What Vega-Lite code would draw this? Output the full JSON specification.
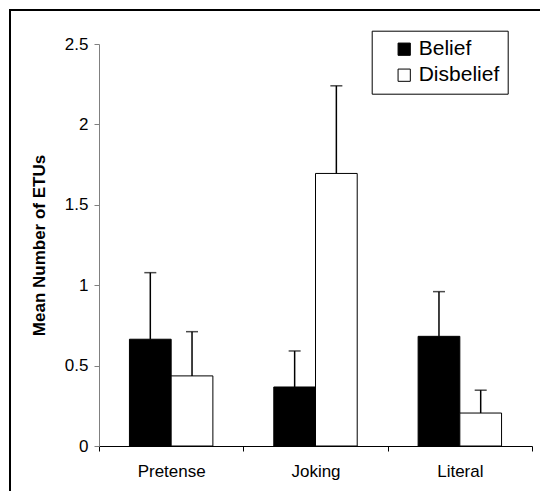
{
  "$schema": "https://vega.github.io/schema/vega-lite/v6.json",
  "width": 534,
  "height": 485,
  "autosize": {"type": "none"},
  "padding": {"left": 10, "top": 10, "right": -4, "bottom": -4},
  "background": "white",
  "config": {
    "font": "Liberation Sans",
    "view": {"stroke": "black", "strokeWidth": 2},
    "axis": {"grid": false, "labelFont": "Liberation Sans", "titleFont": "Liberation Sans", "labelColor": "black", "titleColor": "black"}
  },
  "data": {
    "values": [
      {"condition": "Pretense", "group": "Belief", "mean": 0.664, "upper": 1.078},
      {"condition": "Pretense", "group": "Disbelief", "mean": 0.436, "upper": 0.711},
      {"condition": "Joking", "group": "Belief", "mean": 0.367, "upper": 0.591},
      {"condition": "Joking", "group": "Disbelief", "mean": 1.695, "upper": 2.24},
      {"condition": "Literal", "group": "Belief", "mean": 0.682, "upper": 0.96},
      {"condition": "Literal", "group": "Disbelief", "mean": 0.205, "upper": 0.347}
    ]
  },
  "encoding": {
    "x": {
      "field": "condition",
      "type": "nominal",
      "sort": ["Pretense", "Joking", "Literal"],
      "scale": {"range": [89, 522], "paddingInner": 0, "paddingOuter": 0},
      "axis": {
        "title": null,
        "orient": "bottom",
        "offset": -49,
        "tickBand": "extent",
        "tickSize": 5,
        "domainColor": "black",
        "tickColor": "black",
        "labelAngle": 0,
        "labelFontSize": 17,
        "labelPadding": 12
      }
    },
    "xOffset": {
      "field": "group",
      "type": "nominal",
      "sort": ["Belief", "Disbelief"],
      "scale": {"paddingInner": 0, "paddingOuter": 0.73}
    }
  },
  "layer": [
    {
      "mark": {"type": "bar", "stroke": "black", "strokeWidth": 1},
      "encoding": {
        "y": {
          "field": "mean",
          "type": "quantitative",
          "scale": {"domain": [0, 2.5], "range": [436, 34], "nice": false},
          "axis": {
            "title": "Mean Number of ETUs",
            "titleFontSize": 17,
            "titleFontWeight": "bold",
            "titlePadding": 16,
            "offset": -89,
            "values": [0, 0.5, 1, 1.5, 2, 2.5],
            "format": "~g",
            "domainColor": "#808080",
            "tickColor": "#808080",
            "tickSize": 5,
            "labelFontSize": 17,
            "labelPadding": 6
          }
        },
        "fill": {
          "field": "group",
          "type": "nominal",
          "sort": ["Belief", "Disbelief"],
          "scale": {"domain": ["Belief", "Disbelief"], "range": ["black", "white"]},
          "legend": {
            "orient": "none",
            "legendX": 361.7,
            "legendY": 20.7,
            "title": null,
            "strokeColor": "black",
            "fillColor": "white",
            "padding": 8,
            "symbolType": "square",
            "symbolSize": 150,
            "symbolStrokeColor": "black",
            "symbolStrokeWidth": 1,
            "labelFontSize": 21,
            "labelFont": "Liberation Sans",
            "labelColor": "black",
            "labelOffset": 4,
            "rowPadding": 4,
            "symbolOffset": 14
          }
        }
      }
    },
    {
      "mark": {"type": "rule", "color": "black", "strokeWidth": 1.5},
      "encoding": {
        "y": {"field": "mean", "type": "quantitative"},
        "y2": {"field": "upper"}
      }
    },
    {
      "mark": {"type": "tick", "color": "black", "thickness": 1.5, "size": 12},
      "encoding": {
        "y": {"field": "upper", "type": "quantitative"}
      }
    }
  ]
}
